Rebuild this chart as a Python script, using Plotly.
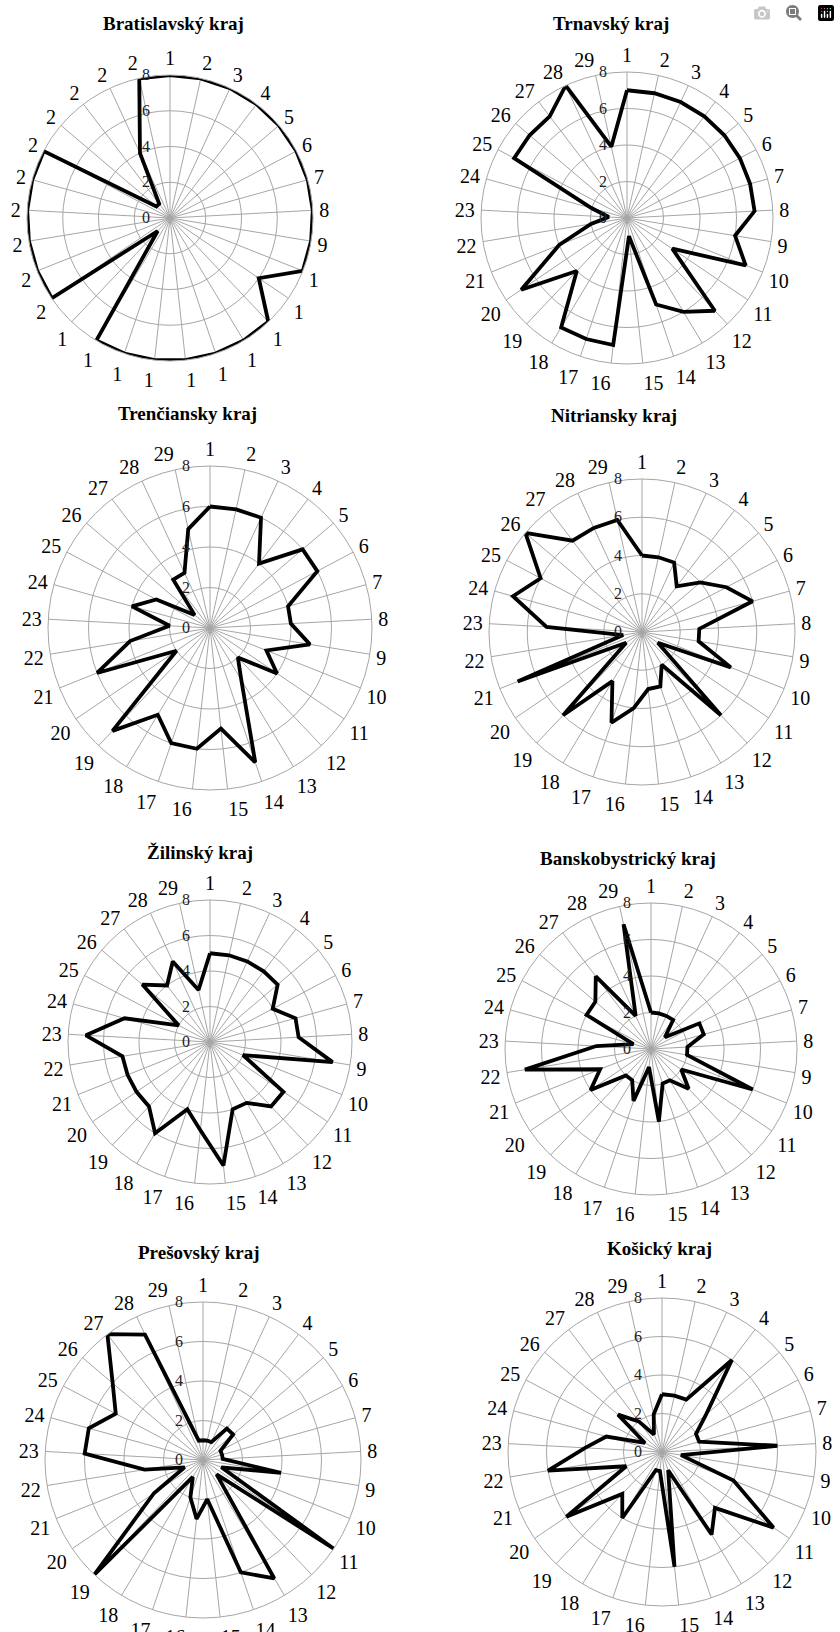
import plotly.graph_objects as go

W, H = 840, 1632

categories = [str(i) for i in range(1, 30)]
labels_std = ["1", "2", "3", "4", "5", "6", "7", "8", "9", "10", "11", "12", "13", "14", "15",
              "16", "17", "18", "19", "20", "21", "22", "23", "24", "25", "26", "27", "28", "29"]
# Bratislava chart shows truncated labels (first digit only)
labels_ba = ["1", "2", "3", "4", "5", "6", "7", "8", "9", "1", "1", "1", "1", "1", "1",
             "1", "1", "1", "1", "2", "2", "2", "2", "2", "2", "2", "2", "2", "2"]
radial_ticks = [0, 2, 4, 6, 8]

bratislavsky = [8, 8, 8, 8, 8, 8, 8, 8, 8, 8, 6, 8, 8, 8, 8, 8, 8, 8, 1, 8, 8, 8, 8, 8, 8, 1, 1, 4, 8]
trnavsky = [7, 7, 7, 7, 7, 7, 7, 7, 6, 7, 3, 7, 6, 5, 1, 7, 7, 7, 4, 7, 4, 2, 1, 2, 7, 7, 7, 8, 4]
trenciansky = [6, 6, 6, 4, 6, 6, 4, 4, 5, 3, 4, 2, 3, 7, 5, 6, 6, 5, 7, 2, 6, 4, 2, 4, 3, 1, 3, 3, 5]
nitriansky = [4, 4, 4, 3, 4, 5, 6, 3, 3, 5, 1, 6, 2, 3, 3, 4, 5, 3, 6, 1, 7, 1, 5, 7, 6, 8, 6, 6, 6]
zilinsky = [5, 5, 5, 5, 5, 4, 5, 5, 7, 2, 5, 5, 4, 4, 7, 5, 4, 6, 5, 5, 5, 5, 7, 5, 2, 5, 4, 5, 3]
banskobystricky = [2, 2, 2, 2, 1, 3, 3, 2, 2, 6, 2, 3, 2, 2, 4, 1, 3, 2, 2, 4, 3, 7, 3, 1, 4, 4, 5, 2, 7]
presovsky = [1, 1, 1, 2, 2, 1, 1, 1, 4, 1, 8, 1, 7, 6, 2, 3, 2, 1, 8, 3, 1, 3, 6, 6, 5, 6, 8, 7, 1]
kosicky = [3, 3, 3, 6, 3, 2, 2, 6, 1, 4, 7, 4, 5, 1, 6, 1, 1, 4, 3, 6, 2, 6, 4, 3, 1, 3, 2, 1, 2]

# (title, values, labels, center x px, center y px, radius px, title x px, title y px)
charts = [
    ("Bratislavský kraj", bratislavsky, labels_ba, 170, 218, 143, 173, 24),
    ("Trnavský kraj", trnavsky, labels_std, 627, 218, 146, 611, 24),
    ("Trenčiansky kraj", trenciansky, labels_std, 210, 628, 162, 187, 413),
    ("Nitriansky kraj", nitriansky, labels_std, 642, 632, 153, 614, 415),
    ("Žilinský kraj", zilinsky, labels_std, 210, 1042, 142, 200, 852),
    ("Banskobystrický kraj", banskobystricky, labels_std, 651, 1049, 146, 628, 858),
    ("Prešovský kraj", presovsky, labels_std, 203, 1460, 158, 199, 1252),
    ("Košický kraj", kosicky, labels_std, 662, 1452, 154, 659, 1248),
]

n = len(categories)
angles = [i * 360.0 / n for i in range(n)]

SERIF = "Liberation Serif, Times New Roman, serif"
GRID = "#a6a6a6"

fig = go.Figure()
layout = dict(
    width=W, height=H,
    margin=dict(l=0, r=0, t=0, b=0),
    paper_bgcolor="white",
    plot_bgcolor="white",
    showlegend=False,
    font=dict(family=SERIF, color="black"),
    annotations=[],
)

for idx, (title, vals, labs, cx, cy, R, tx, ty) in enumerate(charts):
    pname = "polar" if idx == 0 else f"polar{idx + 1}"
    fig.add_trace(go.Scatterpolar(
        r=list(vals) + [vals[0]],
        theta=angles + [angles[0]],
        thetaunit="degrees",
        mode="lines",
        line=dict(color="black", width=3.8),
        subplot=pname,
        hoverinfo="skip",
    ))
    layout[pname] = dict(
        domain=dict(x=[(cx - R) / W, (cx + R) / W], y=[1 - (cy + R) / H, 1 - (cy - R) / H]),
        bgcolor="white",
        gridshape="linear",
        angularaxis=dict(
            direction="clockwise", rotation=90, thetaunit="degrees",
            tickmode="array", tickvals=angles, ticktext=labs,
            ticks="outside", ticklen=2, tickcolor="rgba(0,0,0,0)",
            tickfont=dict(family=SERIF, size=20, color="black"),
            showgrid=True, gridcolor=GRID, gridwidth=1,
            showline=True, linecolor=GRID, linewidth=1,
        ),
        radialaxis=dict(
            range=[0, 8], tickmode="array", tickvals=radial_ticks,
            ticktext=[str(v) for v in radial_ticks],
            angle=90, side="counterclockwise", tickangle=90,
            ticks="outside", ticklen=14, tickcolor="rgba(0,0,0,0)",
            tickfont=dict(family=SERIF, size=16, color="#222222"),
            showgrid=True, gridcolor=GRID, gridwidth=1,
            showline=False,
        ),
    )
    layout["annotations"].append(dict(
        text=f"<b>{title}</b>", x=tx / W, y=1 - ty / H, xref="paper", yref="paper",
        showarrow=False, xanchor="center", yanchor="middle",
        font=dict(family=SERIF, size=19, color="black"),
    ))

fig.update_layout(**layout)
fig.write_html("out.html", post_script="document.body.style.margin='0';document.body.style.overflow='hidden';")
